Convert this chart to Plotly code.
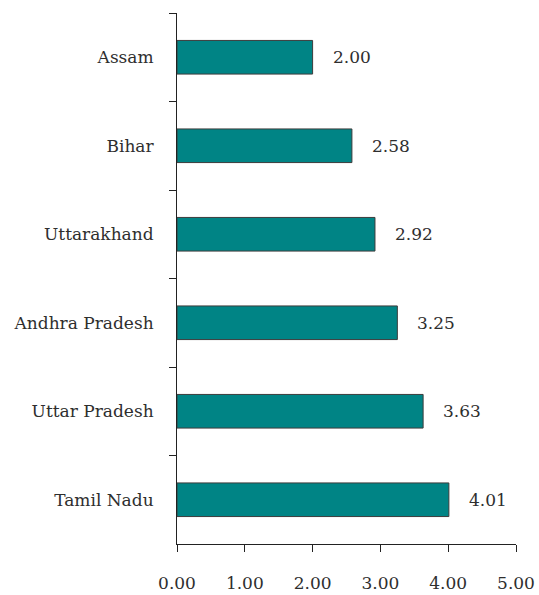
import plotly.graph_objects as go

states = ["Assam", "Bihar", "Uttarakhand", "Andhra Pradesh", "Uttar Pradesh", "Tamil Nadu"]
values = [2.00, 2.58, 2.92, 3.25, 3.63, 4.01]
x_ticks = [0, 1, 2, 3, 4, 5]
x_tick_labels = ["0.00", "1.00", "2.00", "3.00", "4.00", "5.00"]

FONT = "DejaVu Serif"
TXT = "#2e2e2e"

fig = go.Figure(go.Bar(
    x=values, y=states, orientation="h",
    marker=dict(color="#008485", line=dict(color="#3c3c3c", width=1)),
    width=0.38,
    hoverinfo="skip",
))

for s, v in zip(states, values):
    fig.add_annotation(x=v, y=s, text=f"{v:.2f}", showarrow=False,
                       xanchor="left", xshift=18, yanchor="middle",
                       font=dict(family=FONT, size=17, color=TXT))

fig.update_layout(
    width=539, height=595,
    margin=dict(l=177, r=23, t=13, b=51),
    paper_bgcolor="white", plot_bgcolor="white",
    showlegend=False,
    font=dict(family=FONT, size=17, color=TXT),
)
fig.update_xaxes(range=[0, 5], tickvals=x_ticks, ticktext=x_tick_labels,
                 showgrid=False, zeroline=False, showline=True,
                 linecolor="#222", linewidth=1, ticks="outside", ticklen=7,
                 tickcolor="#222", ticklabelstandoff=17, automargin=False,
                 tickfont=dict(family=FONT, size=17, color=TXT))
fig.update_yaxes(categoryorder="array", categoryarray=states,
                 range=[5.5, -0.5], showgrid=False, zeroline=False,
                 showline=True, linecolor="#222", linewidth=1,
                 ticks="outside", ticklen=7, tickcolor="#222",
                 tickson="boundaries", ticklabelstandoff=19, automargin=False,
                 tickfont=dict(family=FONT, size=17, color=TXT))

fig.write_html("out.html", config={"displayModeBar": False},
               post_script="document.body.style.margin='0';document.body.style.overflow='hidden';")
